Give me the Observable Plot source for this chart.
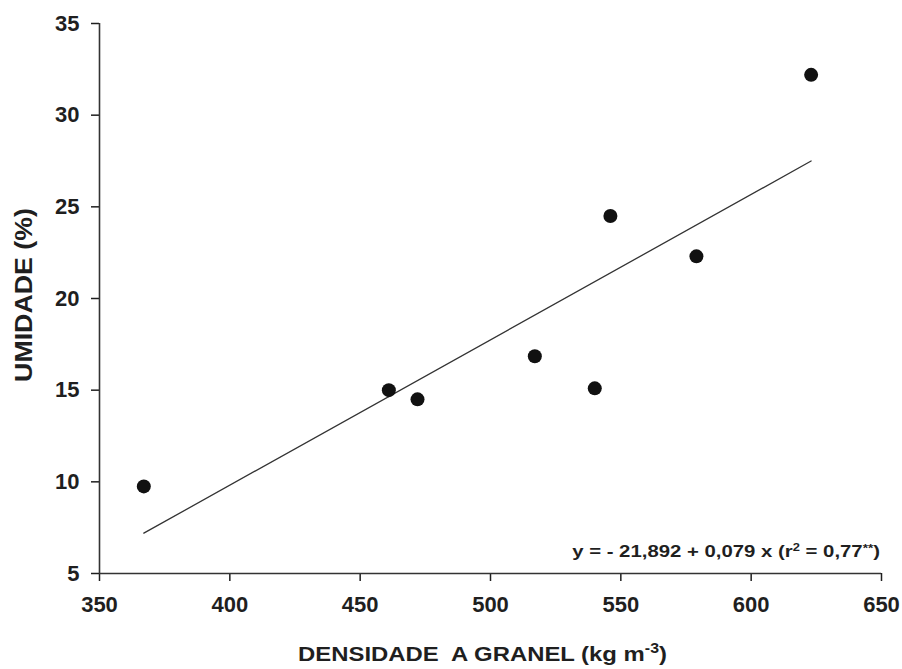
<!DOCTYPE html>
<html>
<head>
<meta charset="utf-8">
<script src="https://cdn.jsdelivr.net/npm/d3@7"></script>
<script src="https://cdn.jsdelivr.net/npm/@observablehq/plot@0.6"></script>
<style>
  html, body { margin: 0; padding: 0; background: #fff; }
  svg { display: block; }
</style>
</head>
<body>
<div id="chart"></div>
<script>
// Data
const densidade = [367, 461, 472, 517, 540, 546, 579, 623];
const umidade   = [9.75, 15.0, 14.5, 16.85, 15.1, 24.5, 22.3, 32.2];

// Regression line end points (y = -21.892 + 0.079x)
const fitX = [367, 623];
const fitY = [7.2, 27.5];

const xTicks = [350, 400, 450, 500, 550, 600, 650];
const yTicks = [5, 10, 15, 20, 25, 30, 35];

const points = densidade.map((d, i) => ({x: d, y: umidade[i]}));
const fit = fitX.map((d, i) => ({x: d, y: fitY[i]}));

const font = "'Liberation Sans', Arial, Helvetica, sans-serif";

const svg = Plot.plot({
  width: 902,
  height: 669,
  marginLeft: 99,
  marginRight: 21,
  marginTop: 23,
  marginBottom: 96,
  style: {fontFamily: font, fontSize: "22px", fontWeight: "bold", color: "#1f1f1f", background: "#fff"},
  x: {domain: [350, 650], label: null},
  y: {domain: [5, 35], label: null},
  marks: [
    Plot.axisX({ticks: xTicks, tickSize: 8, tickPadding: 15, strokeWidth: 1.5, fontSize: 22, fontWeight: "bold", label: null}),
    Plot.axisY({ticks: yTicks, tickSize: 8, tickPadding: 12, strokeWidth: 1.5, fontSize: 22, fontWeight: "bold", label: null}),
    Plot.ruleY([5], {stroke: "#333", strokeWidth: 1.6}),
    Plot.ruleX([350], {stroke: "#333", strokeWidth: 1.6}),
    Plot.line(fit, {x: "x", y: "y", stroke: "#333", strokeWidth: 1.3}),
    Plot.dot(points, {x: "x", y: "y", r: 7, fill: "#111", stroke: "none"})
  ]
});

document.getElementById("chart").appendChild(svg);

const s = d3.select(svg);

// helper: text inside a group, stretched horizontally to a target width
function stretched(transform, anchor, size, parts, targetWidth, rotate) {
  const g = s.append("g");
  const inner = g.append("g");
  const t = inner.append("text")
    .attr("text-anchor", anchor)
    .attr("font-family", font).attr("font-size", size).attr("font-weight", "bold").attr("fill", "#1f1f1f")
    .attr("xml:space", "preserve");
  parts.forEach(p => {
    const ts = t.append("tspan").text(p.text);
    if (p.dy) ts.attr("dy", p.dy);
    if (p.size) ts.attr("font-size", p.size);
  });
  const w = t.node().getBBox().width;
  const k = w > 0 ? targetWidth / w : 1;
  g.attr("transform", transform + (rotate ? " rotate(-90)" : ""));
  inner.attr("transform", `scale(${k},1)`);
}

// X axis title
stretched("translate(482.5,661)", "middle", 21, [
  {text: "DENSIDADE  A GRANEL (kg m"},
  {text: "-3", dy: -8, size: 14},
  {text: ")", dy: 8}
], 369, false);

// Y axis title
stretched("translate(32,295)", "middle", 24, [
  {text: "UMIDADE (%)"}
], 174, true);

// Equation
stretched("translate(880,557)", "end", 16.5, [
  {text: "y = - 21,892 + 0,079 x (r"},
  {text: "2", dy: -6, size: 10.5},
  {text: " = 0,77", dy: 6},
  {text: "**", dy: -5, size: 11},
  {text: ")", dy: 5}
], 308, false);
</script>
</body>
</html>
